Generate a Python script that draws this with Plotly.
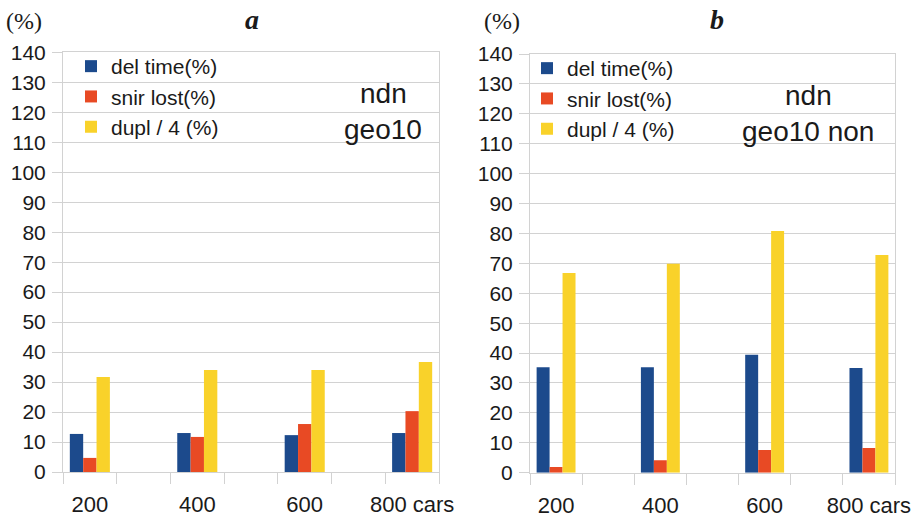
import plotly.graph_objects as go

categories = ["200", " ", "400", "  ", "600", "   ", "800 cars"]
series_names = ["del time(%)", "snir lost(%)", "dupl / 4 (%)"]
colors = ["#1c4a8c", "#e84a24", "#f9d22a"]

a_del = [12.7, None, 13.0, None, 12.3, None, 13.0]
a_snir = [4.7, None, 11.7, None, 16.0, None, 20.3]
a_dupl = [31.7, None, 34.0, None, 34.0, None, 36.7]

b_del = [35.3, None, 35.3, None, 39.4, None, 35.0]
b_snir = [1.9, None, 4.2, None, 7.6, None, 8.3]
b_dupl = [66.8, None, 69.9, None, 80.8, None, 72.8]

y_ticks = list(range(0, 141, 10))

W, H = 920, 518


def px(x):
    return x / W


def py(y):
    return 1 - y / H


fig = go.Figure()

for vals, name, col in zip([a_del, a_snir, a_dupl], series_names, colors):
    fig.add_trace(go.Bar(x=categories, y=vals, name=name, marker_color=col,
                         marker_line_width=0, xaxis="x", yaxis="y", legend="legend"))
for vals, name, col in zip([b_del, b_snir, b_dupl], series_names, colors):
    fig.add_trace(go.Bar(x=categories, y=vals, name=name, marker_color=col,
                         marker_line_width=0, xaxis="x2", yaxis="y2", legend="legend2"))

grid = "#d2d2d2"
tickfont_y = dict(family="Liberation Sans", size=21, color="#1a1a1a")
tickfont_x = dict(family="Liberation Sans", size=22, color="#1a1a1a")


def xax(domain, anchor):
    return dict(domain=domain, anchor=anchor, type="category", tickson="boundaries",
                ticks="outside", ticklen=11, tickcolor=grid, tickwidth=1,
                showgrid=False, showline=True, linecolor=grid, mirror=True,
                tickangle=0, automargin=False,
                tickfont=tickfont_x, ticklabelstandoff=13, fixedrange=True)


def yax(domain, anchor):
    return dict(domain=domain, anchor=anchor, range=[0, 140], tickvals=y_ticks,
                ticks="outside", ticklen=10, tickcolor=grid, tickwidth=1,
                showgrid=True, gridcolor=grid, gridwidth=1, zeroline=False,
                showline=True, linecolor=grid, mirror=True, automargin=False,
                tickfont=tickfont_y, ticklabelstandoff=2, fixedrange=True)


legfont = dict(family="Liberation Sans", size=21, color="#1a1a1a")
fig.update_layout(
    width=W, height=H,
    margin=dict(l=0, r=0, t=0, b=0, autoexpand=False),
    paper_bgcolor="white", plot_bgcolor="white",
    barmode="group", bargap=0.254, bargroupgap=0,
    showlegend=True,
    xaxis=xax([px(63), px(439)], "y"),
    yaxis=yax([py(472), py(52.3)], "x"),
    xaxis2=xax([px(530), px(895)], "y2"),
    yaxis2=yax([py(472.7), py(54)], "x2"),
    legend=dict(x=px(71), y=py(46), xanchor="left", yanchor="top",
                font=legfont, bgcolor="rgba(0,0,0,0)", itemclick=False),
    legend2=dict(x=px(527), y=py(48), xanchor="left", yanchor="top",
                 font=legfont, bgcolor="rgba(0,0,0,0)", itemclick=False),
)

serif = "Liberation Serif"
sans = "Liberation Sans"
ann = [
    dict(text="(%)", x=px(24), y=py(21), font=dict(family=serif, size=24, color="#1a1a1a")),
    dict(text="(%)", x=px(502), y=py(21), font=dict(family=serif, size=24, color="#1a1a1a")),
    dict(text="<b><i>a</i></b>", x=px(252), y=py(19), font=dict(family=serif, size=28, color="#1a1a1a")),
    dict(text="<b><i>b</i></b>", x=px(717), y=py(19), font=dict(family=serif, size=28, color="#1a1a1a")),
    dict(text="ndn", x=px(383), y=py(94), font=dict(family=sans, size=28, color="#1a1a1a")),
    dict(text="geo10", x=px(383), y=py(129), font=dict(family=sans, size=28, color="#1a1a1a")),
    dict(text="ndn", x=px(808), y=py(96), font=dict(family=sans, size=28, color="#1a1a1a")),
    dict(text="geo10 non", x=px(808), y=py(132), font=dict(family=sans, size=28, color="#1a1a1a")),
]
for a in ann:
    fig.add_annotation(xref="paper", yref="paper", showarrow=False,
                       xanchor="center", yanchor="middle", **a)

fig.write_html("out.html", config={"displayModeBar": False},
               post_script="document.body.style.margin='0';")
